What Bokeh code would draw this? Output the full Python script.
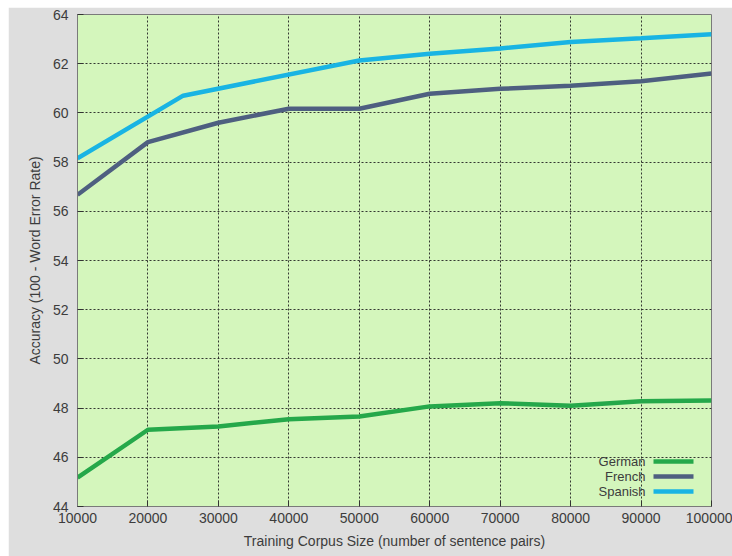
from bokeh.plotting import figure
from bokeh.models import Range1d, Label, BoxAnnotation, FixedTicker
from bokeh.embed import file_html
from bokeh.resources import INLINE

# Training corpus sizes (sentence pairs) and accuracy (100 - WER)
corpus_sizes = [10000, 20000, 30000, 40000, 50000, 60000, 70000, 80000, 90000, 100000]
german = [45.17, 47.12, 47.25, 47.55, 47.66, 48.07, 48.2, 48.1, 48.28, 48.31]
french = [56.67, 58.81, 59.6, 60.17, 60.17, 60.78, 60.98, 61.1, 61.29, 61.6]
spanish_sizes = [10000, 25000, 50000, 60000, 70000, 80000, 90000, 100000]
spanish = [58.15, 60.7, 62.13, 62.4, 62.62, 62.88, 63.03, 63.2]

languages = ["German", "French", "Spanish"]
colors = ["#25a84a", "#4e5f80", "#19b4e3"]

x_ticks = [10000, 20000, 30000, 40000, 50000, 60000, 70000, 80000, 90000, 100000]
y_ticks = [44, 46, 48, 50, 52, 54, 56, 58, 60, 62, 64]

FONT = "Liberation Sans"
TEXT = "#3c3c3c"
LINE_W = 4.5

p = figure(
    width=724, height=549,
    x_range=Range1d(10000, 100000), y_range=Range1d(44, 64),
    output_backend="svg", toolbar_location=None,
    min_border_left=69, min_border_right=21, min_border_top=7, min_border_bottom=50,
    background_fill_color="#d4f6bc", border_fill_color="#dedede",
    outline_line_color="#7a7a7a", outline_line_width=1,
)
p.margin = (7, 0, 0, 8)

for ax, ticks in ((p.xaxis[0], x_ticks), (p.yaxis[0], y_ticks)):
    ax.ticker = FixedTicker(ticks=ticks)
    ax.major_label_text_font = FONT
    ax.major_label_text_font_size = "14px"
    ax.major_label_text_color = TEXT
    ax.axis_label_text_font = FONT
    ax.axis_label_text_font_size = "14px"
    ax.axis_label_text_font_style = "normal"
    ax.axis_label_text_color = TEXT
    ax.axis_line_color = "#7a7a7a"
    ax.major_tick_in = 6
    ax.major_tick_out = 0
    ax.major_tick_line_color = "#333333"
    ax.minor_tick_line_color = None

p.xaxis.axis_label = "Training Corpus Size (number of sentence pairs)"
p.yaxis.axis_label = "Accuracy (100 - Word Error Rate)"
p.xaxis.major_label_standoff = 6
p.yaxis.major_label_standoff = 9
p.xaxis.axis_label_standoff = 7
p.yaxis.axis_label_standoff = 7
p.xaxis.formatter.use_scientific = False

p.grid.grid_line_color = "#222222"
p.grid.grid_line_dash = "2 2"
p.grid.grid_line_width = 1
p.grid.grid_line_alpha = 0.9
p.xgrid.ticker = FixedTicker(ticks=x_ticks)
p.ygrid.ticker = FixedTicker(ticks=y_ticks)

series = [(corpus_sizes, german), (corpus_sizes, french), (spanish_sizes, spanish)]
for (xs, ys), color in zip(series, colors):
    p.line(xs, ys, line_color=color, line_width=LINE_W)

# Key in the lower right corner: name, then a short line sample
# (positions in pixels from the bottom-left corner of the plot frame)
sample_left, sample_right = 576, 616
row_y = [45, 30, 15]
for name, color, y in zip(languages, colors, row_y):
    p.add_layout(BoxAnnotation(
        left=sample_left, right=sample_right,
        bottom=y - LINE_W / 2, top=y + LINE_W / 2,
        left_units="screen", right_units="screen",
        bottom_units="screen", top_units="screen",
        fill_color=color, fill_alpha=1, line_color=None,
    ))
    p.add_layout(Label(
        x=sample_left - 8, y=y, x_units="screen", y_units="screen",
        text=name, text_align="right", text_baseline="middle",
        text_font=FONT, text_font_size="13px", text_color=TEXT,
    ))

open("out.html", "w").write(file_html(p, INLINE))
